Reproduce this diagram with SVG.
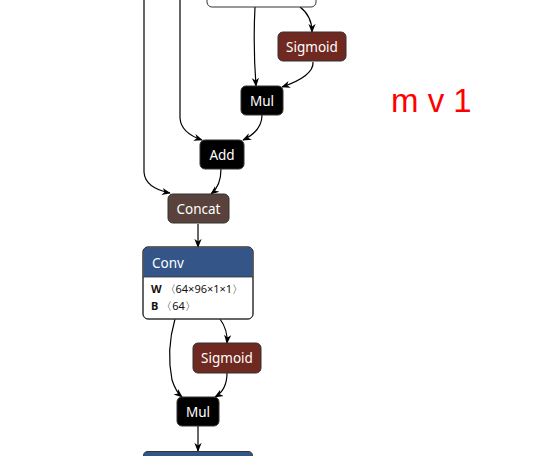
<svg xmlns="http://www.w3.org/2000/svg" width="540" height="456" viewBox="0 0 540 456">
<defs>
<marker id="arr" viewBox="0 0 10 10" refX="9" refY="5" markerWidth="9" markerHeight="9" markerUnits="userSpaceOnUse" orient="auto">
<path d="M0,1 L10,5 L0,9 L3,5 Z" fill="#000"/>
</marker>
<style>
.n{stroke:#333;stroke-width:1}
.t{fill:#fff;font-family:"Segoe UI","Noto Sans","Open Sans",sans-serif;font-size:13.5px;text-anchor:middle}
.e{fill:none;stroke:#000;stroke-width:1.2;marker-end:url(#arr)}
.a{font-family:"Segoe UI","Noto Sans","Open Sans",sans-serif;font-size:11px;fill:#111}
</style>
</defs>
<rect width="540" height="456" fill="#fff"/>
<g id="edges">
<path class="e" d="M144,0 L144,172 Q145,188 170,193"/>
<path class="e" d="M180,0 L180,118 Q181,133 202,140"/>
<path class="e" d="M255,7 Q253,45 256,86"/>
<path class="e" d="M300,7 Q312,16 312,32"/>
<path class="e" d="M313,62 Q314,76 282,87"/>
<path class="e" d="M262,115 Q262,131 243,140"/>
<path class="e" d="M221,169 Q221,186 211,194"/>
<path class="e" d="M198,224 L198,247"/>
<path class="e" d="M175,319 Q166,350 172,380 Q176,392 182,397"/>
<path class="e" d="M220,319 Q228,330 227,343"/>
<path class="e" d="M227,373 Q227,390 215,397"/>
<path class="e" d="M198,426 L198,451"/>
</g>
<g id="node-top">
<rect class="n" x="207" y="-20" width="109" height="27" rx="5" fill="#fff"/>
</g>
<g id="node-sigmoid1">
<rect class="n" x="278" y="32" width="68" height="29" rx="5" fill="#702921"/>
<text class="t" x="312" y="51.5">Sigmoid</text>
</g>
<g id="node-mul1">
<rect class="n" x="241" y="86" width="42" height="29" rx="5" fill="#000"/>
<text class="t" x="262" y="105.5">Mul</text>
</g>
<g id="node-add">
<rect class="n" x="200" y="140" width="44" height="29" rx="5" fill="#000"/>
<text class="t" x="222" y="159.5">Add</text>
</g>
<g id="node-concat">
<rect class="n" x="168" y="194" width="61" height="29" rx="5" fill="#59423b"/>
<text class="t" x="198.5" y="213.5">Concat</text>
</g>
<g id="node-conv">
<rect class="n" x="143" y="247" width="110" height="72" rx="5" fill="#fff"/>
<path d="M143.5,277 L143.5,252 Q143.5,247.5 148,247.5 L248,247.5 Q252.5,247.5 252.5,252 L252.5,277 Z" fill="#335588"/>
<line x1="143" y1="277" x2="253" y2="277" stroke="#333" stroke-width="0.8"/>
<rect x="143" y="247" width="110" height="72" rx="5" fill="none" stroke="#333"/>
<text x="152" y="268" fill="#fff" font-family="Segoe UI,Noto Sans,Open Sans,sans-serif" font-size="13.5">Conv</text>
<text class="a" x="151" y="293"><tspan font-weight="bold">W</tspan> 〈64×96×1×1〉</text>
<text class="a" x="151" y="310"><tspan font-weight="bold">B</tspan> 〈64〉</text>
</g>
<g id="node-sigmoid2">
<rect class="n" x="193" y="343" width="68" height="30" rx="5" fill="#702921"/>
<text class="t" x="227" y="362.5">Sigmoid</text>
</g>
<g id="node-mul2">
<rect class="n" x="177" y="397" width="42" height="29" rx="5" fill="#000"/>
<text class="t" x="198" y="416.5">Mul</text>
</g>
<g id="node-bottom">
<path d="M143.5,470 L143.5,456 L143.5,456 Q143.5,451.5 148,451.5 L248,451.5 Q252.5,451.5 252.5,456 L252.5,470 Z" fill="#335588" stroke="#333"/>
</g>
<text x="391" y="112" fill="#ff0000" font-family="Liberation Sans,Arial,sans-serif" font-size="33">m v 1</text>
</svg>
